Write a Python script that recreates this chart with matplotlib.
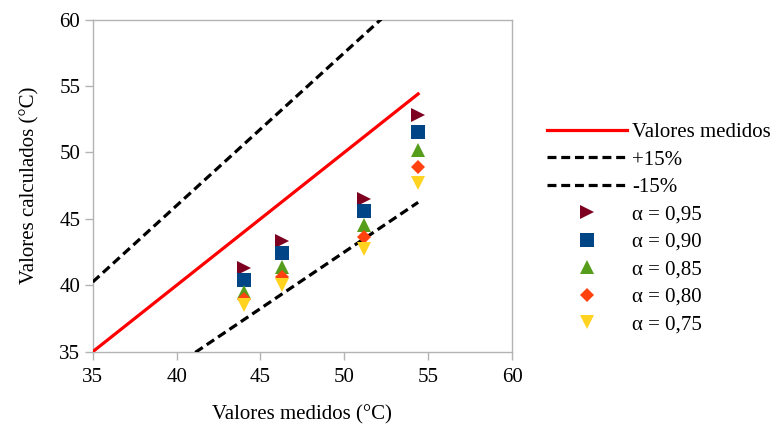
import matplotlib

matplotlib.use("Agg")
import matplotlib.pyplot as plt
import numpy as np

# measured temperatures (x) and calculated values per alpha
medidos = [44.0, 46.3, 51.2, 54.4]
alphas = ["0,95", "0,90", "0,85", "0,80", "0,75"]
calculados = [
    [41.3, 43.3, 46.5, 52.8],
    [40.4, 42.4, 45.6, 51.5],
    [39.5, 41.4, 44.5, 50.2],
    [39.0, 40.6, 43.6, 48.9],
    [38.5, 40.0, 42.7, 47.7],
]
ref_x = [35.0, 54.4]
bands = [1.15, 0.85]
band_labels = ["+15%", "-15%"]

markers = [">", "s", "^", "D", "v"]
sizes = [10, 10, 10, 7.5, 10]
colors = ["#7e0021", "#004586", "#579d1c", "#ff420e", "#ffd320"]

plt.rcParams["font.family"] = ["Liberation Serif", "DejaVu Serif"]
plt.rcParams["font.size"] = 15

fig = plt.figure(figsize=(7.73, 4.26), dpi=100)
ax = fig.add_axes([0.12, 0.1744, 0.5424, 0.7798])

rx = np.array(ref_x)
ax.plot(rx, rx, color="#ff0000", lw=2.3, label="Valores medidos", zorder=3)
for k, lab in zip(bands, band_labels):
    ax.plot(rx, rx * k, color="black", lw=2.3, dashes=(2.8, 1.5), label=lab, zorder=3)

for ys, a, m, s, c in zip(calculados, alphas, markers, sizes, colors):
    ax.plot(medidos, ys, ls="none", marker=m, markersize=s, color=c,
            markeredgewidth=0, label=f"α = {a}", zorder=4)

ax.set_xlim(35, 60)
ax.set_ylim(35, 60)
ax.set_xticks(np.arange(35, 61, 5))
ax.set_yticks(np.arange(35, 61, 5))
for sp in ax.spines.values():
    sp.set_color("#b3b3b3")
    sp.set_linewidth(1.0)
ax.tick_params(direction="out", length=6, color="#b3b3b3", width=1.0, labelsize=15)
ax.tick_params(axis="x", pad=6)
ax.tick_params(axis="y", pad=3)
ax.set_xlabel("Valores medidos (°C)", fontsize=15, labelpad=13)
ax.set_ylabel("Valores calculados (°C)", fontsize=15, labelpad=14)

ax.legend(loc="center left", bbox_to_anchor=(1.083, 0.371), frameon=False,
          handlelength=3.85, handletextpad=0.25, labelspacing=0.38, fontsize=15,
          borderaxespad=0, borderpad=0)

fig.savefig("out.png", dpi=100)
